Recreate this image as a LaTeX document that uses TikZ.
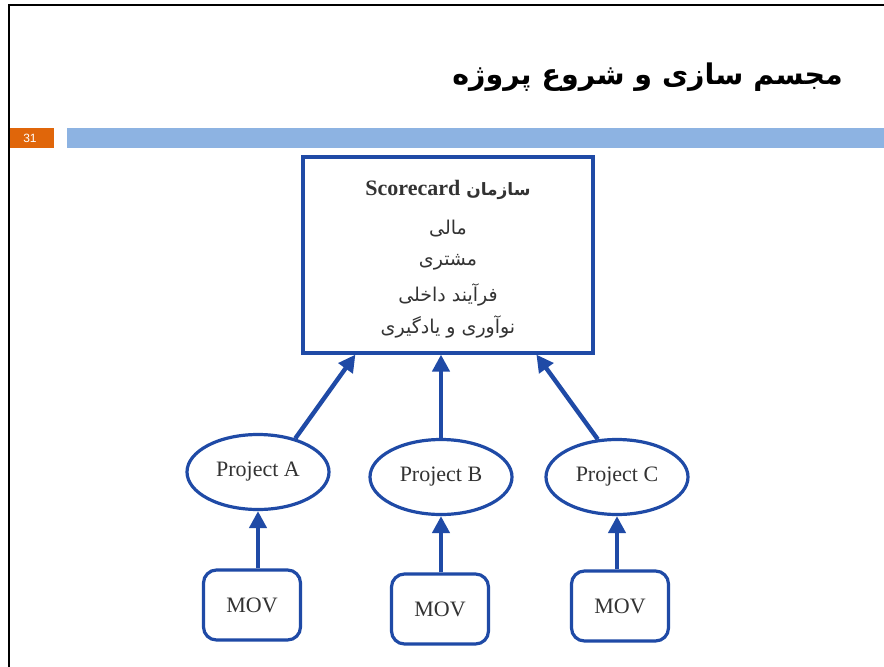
\documentclass[tikz,border=0pt]{standalone}
\usepackage{fontspec}
\setmainfont{Liberation Serif}
\newfontfamily\arabicfont[Script=Arabic]{DejaVu Sans}
\newfontfamily\arabicbold[Script=Arabic]{DejaVu Sans Bold}
\newfontfamily\numfont{Liberation Sans}
\TeXXeTstate=1
\usetikzlibrary{shapes.geometric,arrows.meta,calc}
\definecolor{linkblue}{HTML}{1F4AA6}
\definecolor{barblue}{HTML}{8DB3E2}
\definecolor{numorange}{HTML}{E0660A}
\definecolor{bodygray}{HTML}{333333}
\tikzset{
  frameline/.style={line width=2.2pt, black},
  projnode/.style={ellipse, draw=linkblue, line width=3.2pt, minimum width=142pt,
    minimum height=75pt, inner sep=0pt, text=bodygray, font=\fontsize{22}{24}\selectfont},
  movbox/.style={rectangle, rounded corners=13pt, draw=linkblue, line width=3.2pt,
    minimum width=97pt, minimum height=70pt, inner sep=0pt, text=bodygray,
    font=\fontsize{22}{24}\selectfont},
  scorebox/.style={rectangle, draw=linkblue, line width=3.2pt, minimum width=290pt,
    minimum height=196pt, inner sep=0pt},
  arr/.style={-{Triangle[length=17pt,width=17pt]}, line width=4.4pt, linkblue},
  fatext/.style={text=bodygray, font=\arabicfont\fontsize{19}{22}\selectfont}
}
\begin{document}
\begin{tikzpicture}[x=1pt,y=-1pt]
  \useasboundingbox (0,0) rectangle (884,667);
  \fill[white] (0,0) rectangle (884,667);

  % slide frame
  \draw[frameline] (8,5) -- (884,5);
  \draw[frameline] (9,4) -- (9,667);

  % title
  \node[anchor=east, inner sep=0pt, font=\arabicbold\fontsize{28.5}{32}\selectfont] (title)
    at (843,77) {\beginR مجسم سازی و شروع پروژه\endR};

  % page number tab and header bar
  \fill[numorange] (10,128) rectangle (54,148);
  \node[text=white, font=\numfont\fontsize{12}{14}\selectfont, inner sep=0pt] (pnum) at (30,138) {31};
  \fill[barblue] (67,128) rectangle (884,148);

  % scorecard box
  \node[scorebox] (score) at (448,255) {};
  \node[text=bodygray, font=\arabicbold\fontsize{17}{20}\selectfont] (t1) at (448,190)
    {\beginR سازمان \beginL{\rmfamily\bfseries\fontsize{22}{24}\selectfont Scorecard}\endL\endR};
  \node[fatext] (t2) at (448,229) {\beginR مالی\endR};
  \node[fatext] (t3) at (448,262) {\beginR مشتری\endR};
  \node[fatext] (t4) at (448,295) {\beginR فرآیند داخلی\endR};
  \node[fatext] (t5) at (448,327) {\beginR نوآوری و یادگیری\endR};

  % projects
  \node[projnode] (pa) at (258,472) {Project A};
  \node[projnode] (pb) at (441,477) {Project B};
  \node[projnode] (pc) at (617,477) {Project C};

  % MOV boxes
  \node[movbox] (ma) at (252,605) {MOV};
  \node[movbox] (mb) at (440,609) {MOV};
  \node[movbox] (mc) at (620,606) {MOV};

  % projects feed the scorecard
  \draw[arr] (pa.42) -- ($(score.south west)+(54,0)$);
  \draw[arr] (pb.north) -- (pb.north |- score.south);
  \draw[arr] (pc.117) -- ($(score.south west)+(235,0)$);

  % MOVs feed the projects
  \draw[arr] (ma.north -| pa.south) -- (pa.south);
  \draw[arr] (mb.north -| pb.south) -- (pb.south);
  \draw[arr] (mc.north -| pc.south) -- (pc.south);
\end{tikzpicture}
\end{document}
